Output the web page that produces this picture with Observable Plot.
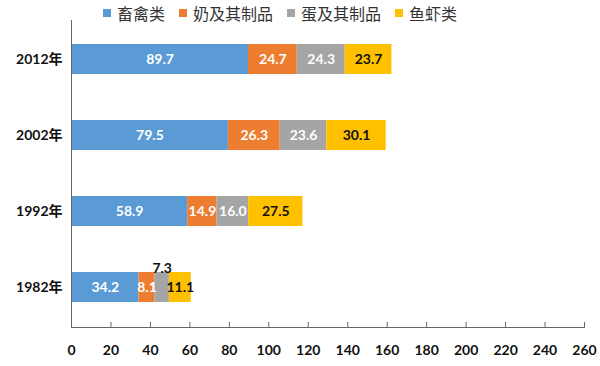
<!DOCTYPE html>
<html><head><meta charset="utf-8">
<script src="https://cdn.jsdelivr.net/npm/d3@7"></script>
<script src="https://cdn.jsdelivr.net/npm/@observablehq/plot@0.6"></script>
<style>
body{margin:0;background:#fff;font-family:"Lato","Noto Sans CJK SC",sans-serif;position:relative;}
#legend{position:absolute;top:3px;left:0;height:20px;display:flex;align-items:center;padding-left:103px;font-family:"Noto Sans CJK SC",sans-serif;font-size:16px;line-height:20px;color:#333;}
#legend span.item{display:flex;align-items:center;margin-right:14px;}
#legend span.sw{width:8px;height:8px;margin-right:6px;display:inline-block;}
#chart{padding-top:20px;}
</style></head>
<body>
<div id="chart"></div>
<div id="legend"></div>
<script>
const years = ["2012年","2002年","1992年","1982年"];
const series = ["畜禽类","奶及其制品","蛋及其制品","鱼虾类"];
const colors = ["#5B9BD5","#ED7D31","#A5A5A5","#FFC000"];
const livestock = [89.7,79.5,58.9,34.2];
const dairy = [24.7,26.3,14.9,8.1];
const eggs = [24.3,23.6,16.0,7.3];
const fish = [23.7,30.1,27.5,11.1];
const xTicks = d3.range(0,261,20);

const values = [livestock,dairy,eggs,fish];
const data = [];
years.forEach((y,i)=>series.forEach((s,j)=>data.push({year:y,series:s,value:values[j][i]})));
const isAbove = d => d.year==="1982年" && d.series==="蛋及其制品";
const txt = pred => d => pred(d) ? d.value.toFixed(1) : "";

const leg = document.getElementById("legend");
series.forEach((s,i)=>{
  const it=document.createElement("span");it.className="item";
  it.innerHTML=`<span class="sw" style="background:${colors[i]}"></span>${s}`;
  leg.appendChild(it);
});

const stackOpts = {x:"value", y:"year", z:"series", order: series};
const tstyle = {fontWeight:"bold", fontSize:14};
const chart = Plot.plot({
  width:600, height:346,
  marginLeft:71, marginRight:16, marginTop:0, marginBottom:39,
  style:{fontFamily:'"Lato","Noto Sans CJK SC",sans-serif', fontSize:"13px", color:"#000"},
  x:{domain:[0,260], ticks:xTicks, label:null},
  y:{domain:years, paddingInner:0.6, paddingOuter:0.3, align:0.5, label:null},
  color:{domain:series, range:colors},
  marks:[
    Plot.barX(data, Plot.stackX({...stackOpts, fill:"series"})),
    Plot.frame({anchor:"left", stroke:"#666"}),
    Plot.frame({anchor:"bottom", stroke:"#666"}),
    Plot.axisX({ticks:xTicks, tickSize:5, dy:-5, text:null, stroke:"#666", label:null}),
    Plot.axisX({ticks:xTicks, tickSize:0, tickPadding:18, fontWeight:"bold", fontSize:14, fill:"#111", label:null}),
    Plot.axisY({tickSize:0, tickPadding:9, fontWeight:"bold", fontSize:14, fill:"#111", label:null}),
    Plot.text(data, Plot.stackX({...stackOpts, text:txt(d=>d.series!=="鱼虾类" && !isAbove(d)), fill:"white", ...tstyle})),
    Plot.text(data, Plot.stackX({...stackOpts, text:txt(d=>d.series==="鱼虾类"), fill:"#111", ...tstyle})),
    Plot.text(data, Plot.stackX({...stackOpts, text:txt(isAbove), fill:"#111", ...tstyle, dy:-19}))
  ]
});
document.getElementById("chart").appendChild(chart);
</script>
</body></html>
